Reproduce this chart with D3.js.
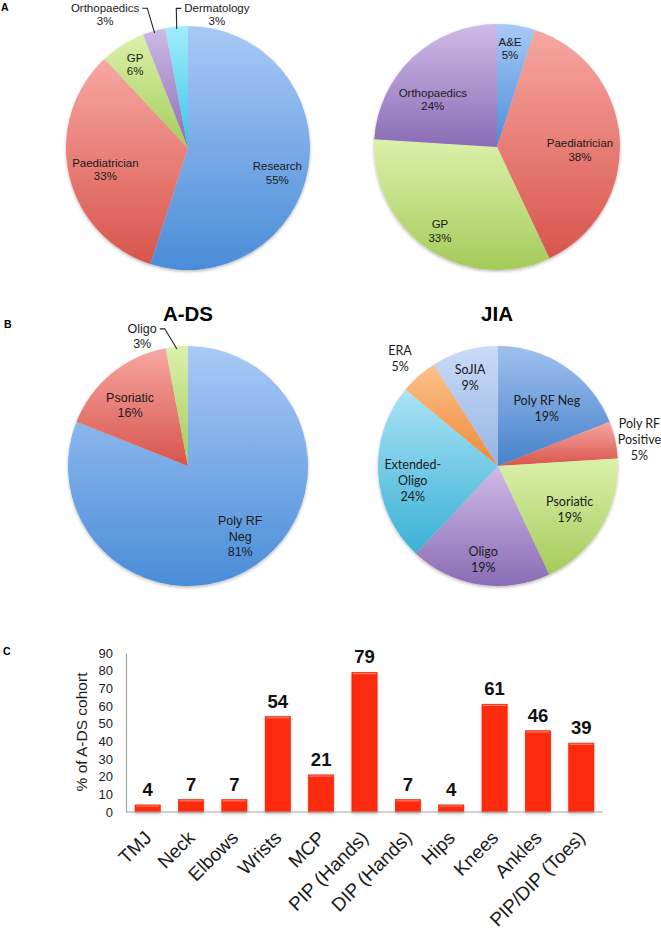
<!DOCTYPE html>
<html><head><meta charset="utf-8">
<script src="https://cdn.jsdelivr.net/npm/d3@7"></script>
<style>body{margin:0;background:#fff}svg{display:block}</style>
</head><body>
<svg id="chart" width="661" height="936"></svg>
<script>
// ---------- DATA ----------
const referralLabels = ["Research", "Paediatrician", "GP", "Orthopaedics", "Dermatology"];
const referralValues = [55, 33, 6, 3, 3];
const diagnosisLabels = ["A&E", "Paediatrician", "GP", "Orthopaedics"];
const diagnosisValues = [5, 38, 33, 24];
const adsLabels = ["Poly RF\nNeg", "Psoriatic", "Oligo"];
const adsValues = [81, 16, 3];
const jiaLabels = ["Poly RF Neg", "Poly RF\nPositive", "Psoriatic", "Oligo", "Extended-\nOligo", "ERA", "SoJIA"];
const jiaValues = [19, 5, 19, 19, 24, 5, 9];
const jointLabels = ["TMJ", "Neck", "Elbows", "Wrists", "MCP", "PIP (Hands)", "DIP (Hands)", "Hips", "Knees", "Ankles", "PIP/DIP (Toes)"];
const jointValues = [4, 7, 7, 54, 21, 79, 7, 4, 61, 46, 39];
const yTicks = [0, 10, 20, 30, 40, 50, 60, 70, 80, 90];

// ---------- STYLE ----------
const pal = {
  blue: ["#a9c9f6", "#4a8dd8"],
  red: ["#f7a7a2", "#d8554c"],
  green: ["#dbf1ab", "#a5cb5a"],
  purple: ["#cfbbe7", "#8a6cb5"],
  cyan: ["#a2eefb", "#38c3e6"],
  blue2: ["#9fc0ee", "#4782cb"],
  teal: ["#abe3f6", "#39b1d5"],
  orange: ["#fcc28c", "#ef8836"],
  lav: ["#c9dbf7", "#98b4e5"]
};

const svg = d3.select("#chart");
const defs = svg.append("defs");
Object.entries(pal).forEach(([k, c]) => {
  const g = defs.append("linearGradient").attr("id", "g-" + k)
    .attr("x1", 0).attr("y1", 0).attr("x2", 0).attr("y2", 1);
  g.append("stop").attr("offset", "0%").attr("stop-color", c[0]);
  g.append("stop").attr("offset", "100%").attr("stop-color", c[1]);
});
const sh = defs.append("filter").attr("id", "shadow").attr("x", "-10%").attr("y", "-10%").attr("width", "120%").attr("height", "125%");
sh.append("feDropShadow").attr("dx", 0).attr("dy", 1.5).attr("stdDeviation", 1.6).attr("flood-color", "#000").attr("flood-opacity", 0.28);

function drawPie(o) {
  const g = svg.append("g").attr("transform", `translate(${o.cx},${o.cy})`);
  const arcs = d3.pie().sort(null).value(d => d)(o.values);
  const arc = d3.arc().innerRadius(0).outerRadius(o.r);
  g.append("g").attr("filter", "url(#shadow)")
    .selectAll("path").data(arcs).join("path")
    .attr("d", arc)
    .attr("fill", (d, i) => `url(#g-${o.colors[i]})`);
  arcs.forEach((d, i) => {
    const [rf, shift] = o.place[i];
    const mid = (d.startAngle + d.endAngle) / 2;
    const a = mid + shift * Math.PI / 180;
    const x = Math.sin(a) * rf * o.r, y = -Math.cos(a) * rf * o.r;
    const lines = o.labels[i].split("\n").concat([o.values[i] + "%"]);
    const y0 = y - (lines.length - 1) * o.lineH / 2 + o.fontSize * 0.36;
    const t = g.append("text").attr("text-anchor", "middle")
      .attr("font-family", o.font).attr("font-size", o.fontSize).attr("fill", "#1a1a1a");
    lines.forEach((l, k) => t.append("tspan").attr("x", x).attr("y", y0 + k * o.lineH).text(l));
    if (o.leaders && o.leaders[i]) {
      const side = o.leaders[i]; // -1: label left of slice, 1: right
      const w = t.select("tspan").node().getComputedTextLength();
      const ly = y0 - o.fontSize * 0.3;
      const sx = side < 0 ? x + w / 2 + 3 : x - w / 2 - 3;
      const ex = Math.sin(mid) * o.r * 0.98, ey = -Math.cos(mid) * o.r * 0.98;
      g.append("path")
        .attr("d", d3.line()([[sx, ly], [sx + (side < 0 ? 5 : -5), ly], [ex, ey]]))
        .attr("fill", "none").attr("stroke", "#222").attr("stroke-width", 1.1);
    }
  });
  return g;
}

// Panel A
drawPie({cx: 188, cy: 148, r: 122, values: referralValues, labels: referralLabels,
  colors: ["blue", "red", "green", "purple", "cyan"],
  place: [[0.76, 6.5], [0.70, -2], [0.81, 0], [1.29, -15.6], [1.12, 17.6]],
  leaders: [0, 0, 0, -1, 1],
  font: "Liberation Sans, Arial, sans-serif", fontSize: 11.5, lineH: 13.5});
drawPie({cx: 497, cy: 147, r: 123, values: diagnosisValues, labels: diagnosisLabels,
  colors: ["blue", "red", "green", "purple"],
  place: [[0.81, -1.5], [0.675, 5.7], [0.825, 0], [0.65, -10.2]],
  font: "Liberation Sans, Arial, sans-serif", fontSize: 11.5, lineH: 13.5});

// Panel B
drawPie({cx: 188, cy: 466, r: 120, values: adsValues, labels: adsLabels,
  colors: ["blue", "red", "green"],
  place: [[0.73, -2.4], [0.70, -4], [1.15, -14]],
  leaders: [0, 0, -1],
  font: "Liberation Sans, Arial, sans-serif", fontSize: 12.5, lineH: 15.5});
drawPie({cx: 498, cy: 466, r: 120, values: jiaValues, labels: jiaLabels,
  colors: ["blue2", "red", "green", "purple", "teal", "orange", "lav"],
  place: [[0.63, 6], [1.20, 1.8], [0.70, 0.8], [0.79, 0], [0.72, -5.8], [1.215, -0.8], [0.77, -1.4]],
  font: "Lato, 'Open Sans', sans-serif", fontSize: 12.5, lineH: 16});

const titleFont = "Liberation Sans, Arial, sans-serif";
svg.append("text").attr("x", 188).attr("y", 321).attr("text-anchor", "middle")
  .attr("font-family", titleFont).attr("font-weight", "bold").attr("font-size", 20.5).text("A-DS");
svg.append("text").attr("x", 497).attr("y", 321).attr("text-anchor", "middle")
  .attr("font-family", titleFont).attr("font-weight", "bold").attr("font-size", 20.5).text("JIA");

// panel letters
[["A", 1, 11], ["B", 4, 328], ["C", 3, 655]].forEach(([t, x, y]) =>
  svg.append("text").attr("x", x).attr("y", y).attr("font-family", titleFont)
    .attr("font-weight", "bold").attr("font-size", 10.5).text(t));

// Panel C: bar chart
const x = d3.scaleBand().domain(jointLabels).range([126, 603]).paddingInner(0.42).paddingOuter(0.21);
const y = d3.scaleLinear().domain([0, 90]).range([812, 653]);

const bars = svg.append("g").attr("filter", "url(#shadow)");
bars.selectAll("rect").data(jointValues).join("rect")
  .attr("x", (d, i) => x(jointLabels[i]))
  .attr("y", d => y(d))
  .attr("width", x.bandwidth())
  .attr("height", d => y(0) - y(d))
  .attr("fill", "#fe2a0c")
  .attr("stroke", "#e01f04").attr("stroke-width", 0.6);
bars.selectAll("line.hl").data(jointValues).join("line").attr("class", "hl")
  .attr("x1", (d, i) => x(jointLabels[i]) + 1)
  .attr("x2", (d, i) => x(jointLabels[i]) + x.bandwidth() - 1)
  .attr("y1", d => y(d) + 1.2).attr("y2", d => y(d) + 1.2)
  .attr("stroke", "#ff7a66").attr("stroke-width", 1.2);

// axes
const yAxis = d3.axisLeft(y).tickValues(yTicks).tickSize(0).tickPadding(13);
const yg = svg.append("g").attr("transform", "translate(126,0)").call(yAxis);
yg.select(".domain").attr("stroke", "#a6a6a6").attr("stroke-width", 1.2);
yg.selectAll("text").attr("font-family", titleFont).attr("font-size", 13).attr("fill", "#1a1a1a");

svg.append("line").attr("x1", 126).attr("x2", 603).attr("y1", y(0)).attr("y2", y(0))
  .attr("stroke", "#a6a6a6").attr("stroke-width", 1.2);

svg.append("text").attr("transform", `translate(87,732) rotate(-90)`)
  .attr("text-anchor", "middle").attr("font-family", titleFont).attr("font-size", 15.5)
  .attr("fill", "#1a1a1a").text("% of A-DS cohort");

// value labels
svg.append("g").selectAll("text").data(jointValues).join("text")
  .attr("x", (d, i) => x(jointLabels[i]) + x.bandwidth() / 2)
  .attr("y", d => y(d) - 9)
  .attr("text-anchor", "middle").attr("font-family", titleFont).attr("font-weight", "bold")
  .attr("font-size", 18.5).attr("fill", "#111").text(d => d);

// category labels
svg.append("g").selectAll("text").data(jointLabels).join("text")
  .attr("transform", d => `translate(${x(d) + x.bandwidth() / 2 + 5},839) rotate(-45)`)
  .attr("text-anchor", "end").attr("font-family", titleFont).attr("font-size", 19)
  .attr("fill", "#1a1a1a").text(d => d);
</script>
</body></html>
